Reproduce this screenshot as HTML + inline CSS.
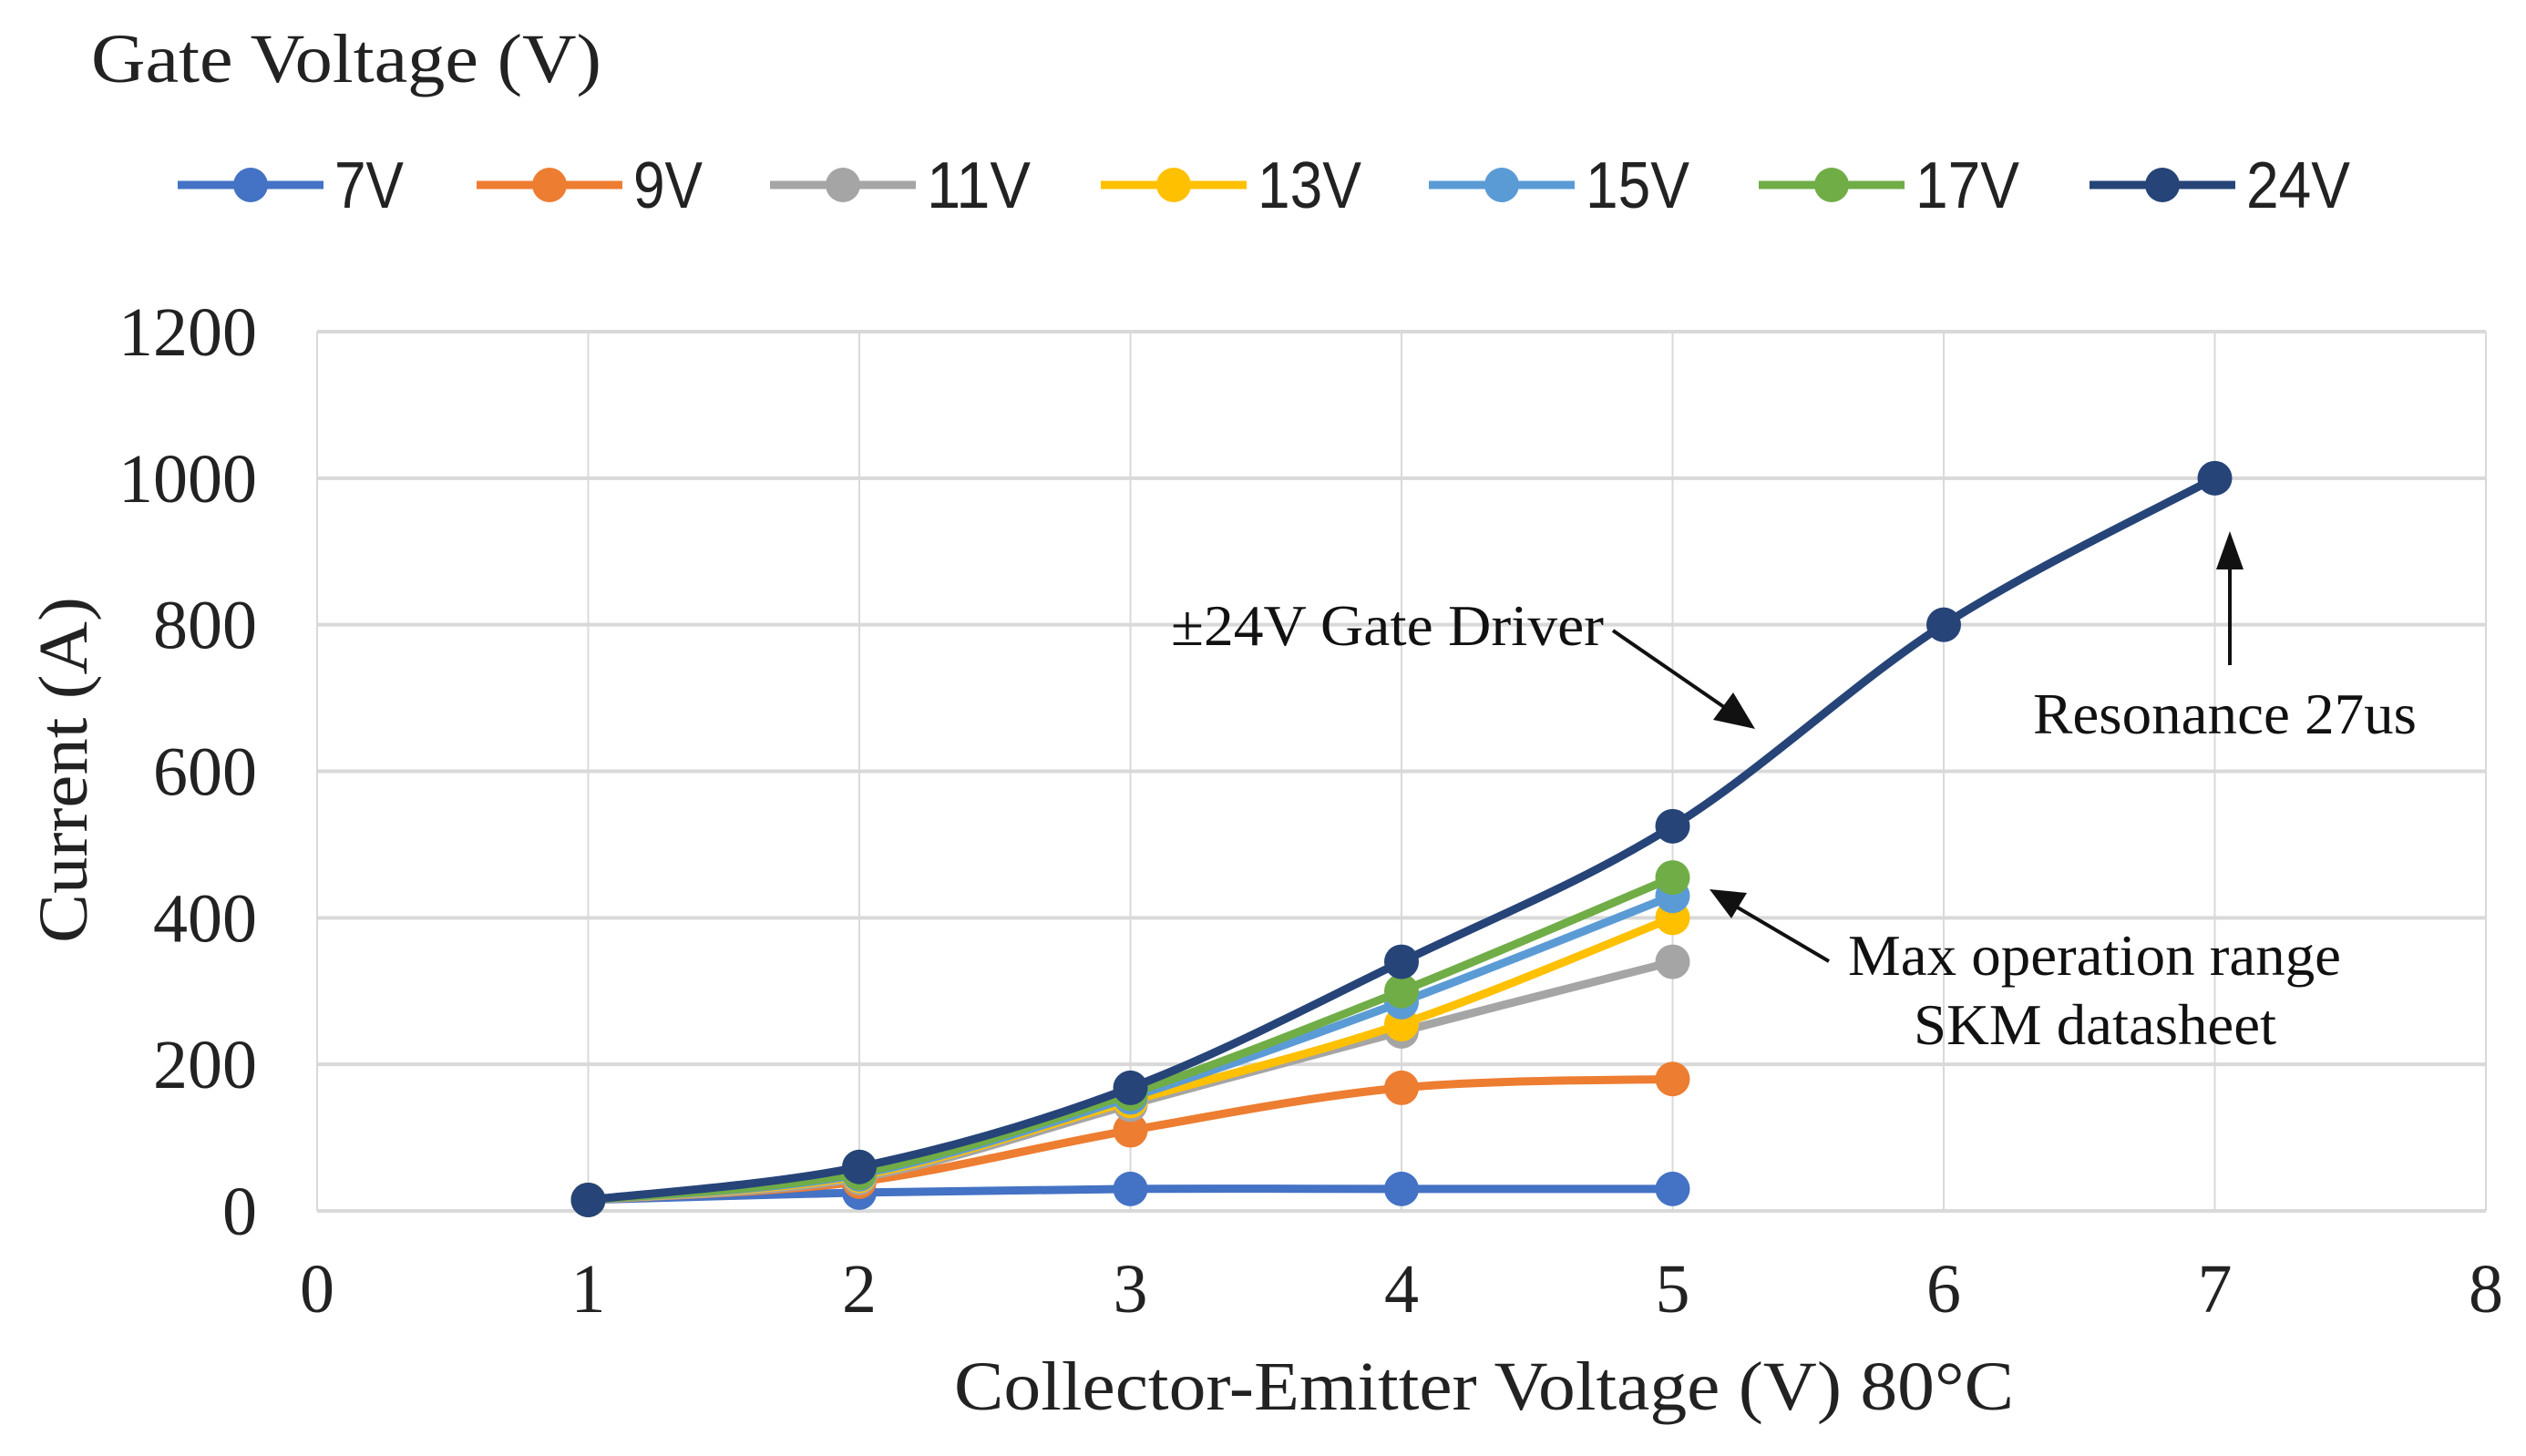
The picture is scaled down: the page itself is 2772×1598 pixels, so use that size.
<!DOCTYPE html>
<html><head><meta charset="utf-8"><style>
html,body{margin:0;padding:0;background:#fff;}
svg{display:block;font-family:"Liberation Serif",serif;}
</style></head><body>
<svg id="chart" width="2772" height="1598" viewBox="0 0 2772 1598" xmlns="http://www.w3.org/2000/svg">
<text x="100" y="90" font-size="76" textLength="560" lengthAdjust="spacingAndGlyphs" fill="#222">Gate Voltage (V)</text>
<g id="grid"></g>
<g id="legend"></g>
<g id="series"></g>
<g id="ticks"></g>
<text transform="translate(95,845) rotate(-90)" text-anchor="middle" font-size="76" textLength="380" lengthAdjust="spacingAndGlyphs" fill="#222">Current (A)</text>
<text x="1047" y="1547" font-size="76" textLength="1163" lengthAdjust="spacingAndGlyphs" fill="#222">Collector-Emitter Voltage (V)  80°C</text>
<g>
<text x="1285" y="708" font-size="64" textLength="475" lengthAdjust="spacingAndGlyphs" fill="#111">±24V Gate Driver</text>
<line x1="1770" y1="692" x2="1905" y2="785" stroke="#111" stroke-width="4"/>
<polygon points="1926,800 1880,790 1902,760" fill="#111"/>
</g>
<g>
<text x="2231" y="805" font-size="64" textLength="421" lengthAdjust="spacingAndGlyphs" fill="#111">Resonance 27us</text>
<line x1="2447" y1="730" x2="2447" y2="610" stroke="#111" stroke-width="4"/>
<polygon points="2447,583 2432,625 2462,625" fill="#111"/>
</g>
<g>
<text x="2028" y="1070" font-size="64" textLength="541" lengthAdjust="spacingAndGlyphs" fill="#111">Max operation range</text>
<text x="2100" y="1146" font-size="64" textLength="398" lengthAdjust="spacingAndGlyphs" fill="#111">SKM datasheet</text>
<line x1="2007" y1="1055" x2="1900" y2="992" stroke="#111" stroke-width="4"/>
<polygon points="1876,976 1917,980 1900,1008" fill="#111"/>
</g>
</svg>
<script>
const xValues=[1,2,3,4,5,6,7];
const seriesNames=["7V","9V","11V","13V","15V","17V","24V"];
const seriesColors=["#4472c4","#ed7d31","#a5a5a5","#ffc000","#5b9bd5","#70ad47","#264478"];
const s7V=[15,25,30,30,30];
const s9V=[15,40,110,168,180];
const s11V=[15,45,145,245,340];
const s13V=[15,48,150,255,400];
const s15V=[15,50,155,285,430];
const s17V=[15,52,160,300,455];
const s24V=[15,60,168,340,525,800,1000];
const xTicks=[0,1,2,3,4,5,6,7,8];
const yTicks=[0,200,400,600,800,1000,1200];
const legendX=[195,523,845,1208,1568,1930,2293];

const NS="http://www.w3.org/2000/svg";
const X0=348,X1=2728,Y0=1329,Y1=364;
function xs(v){return X0+(v-0)/(8-0)*(X1-X0);}
function ys(v){return Y0-(v-0)/(1200-0)*(Y0-Y1);}
function mk(tag,attrs,parent){const e=document.createElementNS(NS,tag);for(const k in attrs)e.setAttribute(k,attrs[k]);parent.appendChild(e);return e;}

const grid=document.getElementById('grid');
yTicks.forEach(t=>{
  const l=mk('line',{x1:X0,x2:X1,y1:ys(t),y2:ys(t),stroke:'#d9d9d9','stroke-width':4},grid);
  
  
});
xTicks.forEach(t=>{
  const l=mk('line',{x1:xs(t),x2:xs(t),y1:Y1,y2:Y0,stroke:'#d9d9d9','stroke-width':2},grid);
  
  
});

const ticks=document.getElementById('ticks');
yTicks.forEach(t=>{
  const e=mk('text',{x:282,y:ys(t)+26,'text-anchor':'end','font-size':76,fill:'#222'},ticks);
  e.textContent=t;
  
  
});
xTicks.forEach(t=>{
  const e=mk('text',{x:xs(t),y:1440,'text-anchor':'middle','font-size':76,fill:'#222'},ticks);
  e.textContent=t;
  
  
});

function smoothPath(pts){
  if(pts.length<2)return '';
  let d='M'+pts[0][0]+','+pts[0][1];
  for(let i=0;i<pts.length-1;i++){
    const p0=pts[Math.max(0,i-1)],p1=pts[i],p2=pts[i+1],p3=pts[Math.min(pts.length-1,i+2)];
    const c1x=p1[0]+(p2[0]-p0[0])/6,c1y=p1[1]+(p2[1]-p0[1])/6;
    const c2x=p2[0]-(p3[0]-p1[0])/6,c2y=p2[1]-(p3[1]-p1[1])/6;
    d+=' C'+c1x+','+c1y+' '+c2x+','+c2y+' '+p2[0]+','+p2[1];
  }
  return d;
}
const allSeries=[s7V,s9V,s11V,s13V,s15V,s17V,s24V];
const sg=document.getElementById('series');
[0,1,2,3,4,5,6].forEach(i=>{
  const vals=allSeries[i];
  const g=mk('g',{},sg);
  
  
  const pts=vals.map((v,j)=>[xs(xValues[j]),ys(v)]);
  const p=mk('path',{d:smoothPath(pts),fill:'none',stroke:seriesColors[i],'stroke-width':9,'stroke-linejoin':'round'},g);
  
  
  pts.forEach(pt=>{
    const c=mk('circle',{cx:pt[0],cy:pt[1],r:19,fill:seriesColors[i]},g);
    
    
  });
});

const lg=document.getElementById('legend');
seriesNames.forEach((n,i)=>{
  const g=mk('g',{},lg);
  
  
  const x=legendX[i];
  mk('line',{x1:x,x2:x+160,y1:203,y2:203,stroke:seriesColors[i],'stroke-width':9},g);
  mk('circle',{cx:x+80,cy:203,r:19,fill:seriesColors[i]},g);
  const t=mk('text',{x:x+172,y:228,'font-size':72,fill:'#222','font-family':'Liberation Sans, sans-serif',textLength:(n.length*38),lengthAdjust:'spacingAndGlyphs'},g);
  t.textContent=n;
});
</script>
</body></html>
